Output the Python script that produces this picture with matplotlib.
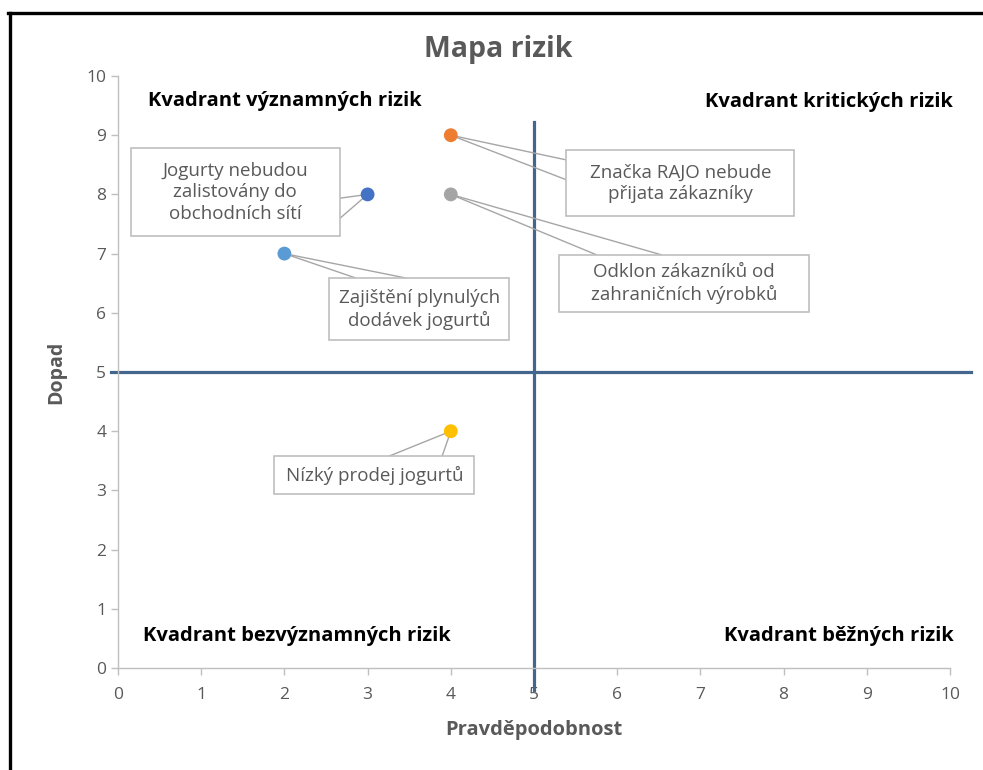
import matplotlib
matplotlib.use("Agg")
import matplotlib.pyplot as plt
from matplotlib.patches import Rectangle
from matplotlib.lines import Line2D

# risks: probability (x), impact (y)
risk_names = [
    "Zajištění plynulých\ndodávek jogurtů",
    "Jogurty nebudou\nzalistovány do\nobchodních sítí",
    "Značka RAJO nebude\npřijata zákazníky",
    "Odklon zákazníků od\nzahraničních výrobků",
    "Nízký prodej jogurtů",
]
probability = [2, 3, 4, 4, 4]
impact = [7, 8, 9, 8, 4]
colors = ["#5b9bd5", "#4472c4", "#ed7d31", "#a5a5a5", "#ffc000"]

# label boxes: center, size (data units) and where the leader lines meet the box
box_center = [(3.62, 6.06), (1.41, 8.04), (6.76, 8.19), (6.80, 6.50), (3.08, 3.26)]
box_size = [(2.16, 1.05), (2.51, 1.49), (2.74, 1.12), (3.00, 0.96), (2.40, 0.64)]
box_attach = [
    [(0.15, 1.0), (0.43, 1.0)],
    [(1.0, 0.43), (1.0, 0.20)],
    [(0.0, 0.85), (0.0, 0.55)],
    [(0.15, 1.0), (0.41, 1.0)],
    [(0.575, 1.0), (0.84, 1.0)],
]

quadrants = ["Kvadrant významných rizik", "Kvadrant kritických rizik",
             "Kvadrant bezvýznamných rizik", "Kvadrant běžných rizik"]
quad_pos = [(0.36, 9.58, "left"), (10.04, 9.56, "right"),
            (0.30, 0.54, "left"), (10.04, 0.54, "right")]

ticks = list(range(0, 11))
split = 5

plt.rcParams["font.family"] = ["Open Sans", "DejaVu Sans"]
grey = "#595959"
axis_grey = "#bfbfbf"
line_blue = "#44658c"

fig = plt.figure(figsize=(9.83, 7.70), dpi=100)
ax = fig.add_axes([118 / 983, 1 - 668 / 770, (950 - 118) / 983, (668 - 76) / 770])

ax.set_xlim(0, 10)
ax.set_ylim(0, 10)
ax.set_xticks(ticks)
ax.set_yticks(ticks)
ax.tick_params(colors=axis_grey, labelcolor=grey, labelsize=12.5, length=5, width=1)
ax.tick_params(axis="x", pad=9)
for s in ["top", "right"]:
    ax.spines[s].set_visible(False)
for s in ["left", "bottom"]:
    ax.spines[s].set_color(axis_grey)
    ax.spines[s].set_linewidth(1)

# quadrant split lines
ax.plot([-0.085, 10.25], [split, split], color=line_blue, lw=2.3, clip_on=False, zorder=2)
ax.plot([split, split], [-0.37, 9.22], color=line_blue, lw=2.3, clip_on=False, zorder=2)

# leader lines and label boxes
for i, name in enumerate(risk_names):
    cx, cy = box_center[i]
    w, h = box_size[i]
    x0, y0 = cx - w / 2, cy - h / 2
    for fx, fy in box_attach[i]:
        ax.plot([probability[i], x0 + fx * w], [impact[i], y0 + fy * h],
                color="#a6a6a6", lw=1, zorder=3, clip_on=False)
    ax.add_patch(Rectangle((x0, y0), w, h, facecolor="white", edgecolor=axis_grey,
                           lw=1.2, zorder=4, clip_on=False))
    ax.text(cx, cy, name, ha="center", va="center", ma="center", fontsize=13.5,
            color=grey, linespacing=1.25, zorder=5)

ax.scatter(probability, impact, s=80, c=colors, zorder=6, clip_on=False)

for text, (qx, qy, ha) in zip(quadrants, quad_pos):
    ax.text(qx, qy, text, ha=ha, va="center", fontsize=14.5, fontweight="bold",
            color="black", zorder=5)

ax.set_xlabel("Pravděpodobnost", fontsize=14.5, fontweight="bold", color=grey, labelpad=12)
ax.set_ylabel("Dopad", fontsize=14, fontweight="bold", color=grey, labelpad=14)

fig.text(498 / 983, 1 - 50 / 770, "Mapa rizik", ha="center", va="center",
         fontsize=20.5, fontweight="bold", color=grey)

# black frame around the chart
fig.add_artist(Line2D([9.5 / 983, 9.5 / 983], [0, 1 - 12.5 / 770], color="black",
                      lw=2.4, transform=fig.transFigure))
fig.add_artist(Line2D([8.3 / 983, 1], [1 - 12.5 / 770, 1 - 12.5 / 770], color="black",
                      lw=2.4, transform=fig.transFigure))

fig.savefig("out.png", dpi=100, facecolor="white")
